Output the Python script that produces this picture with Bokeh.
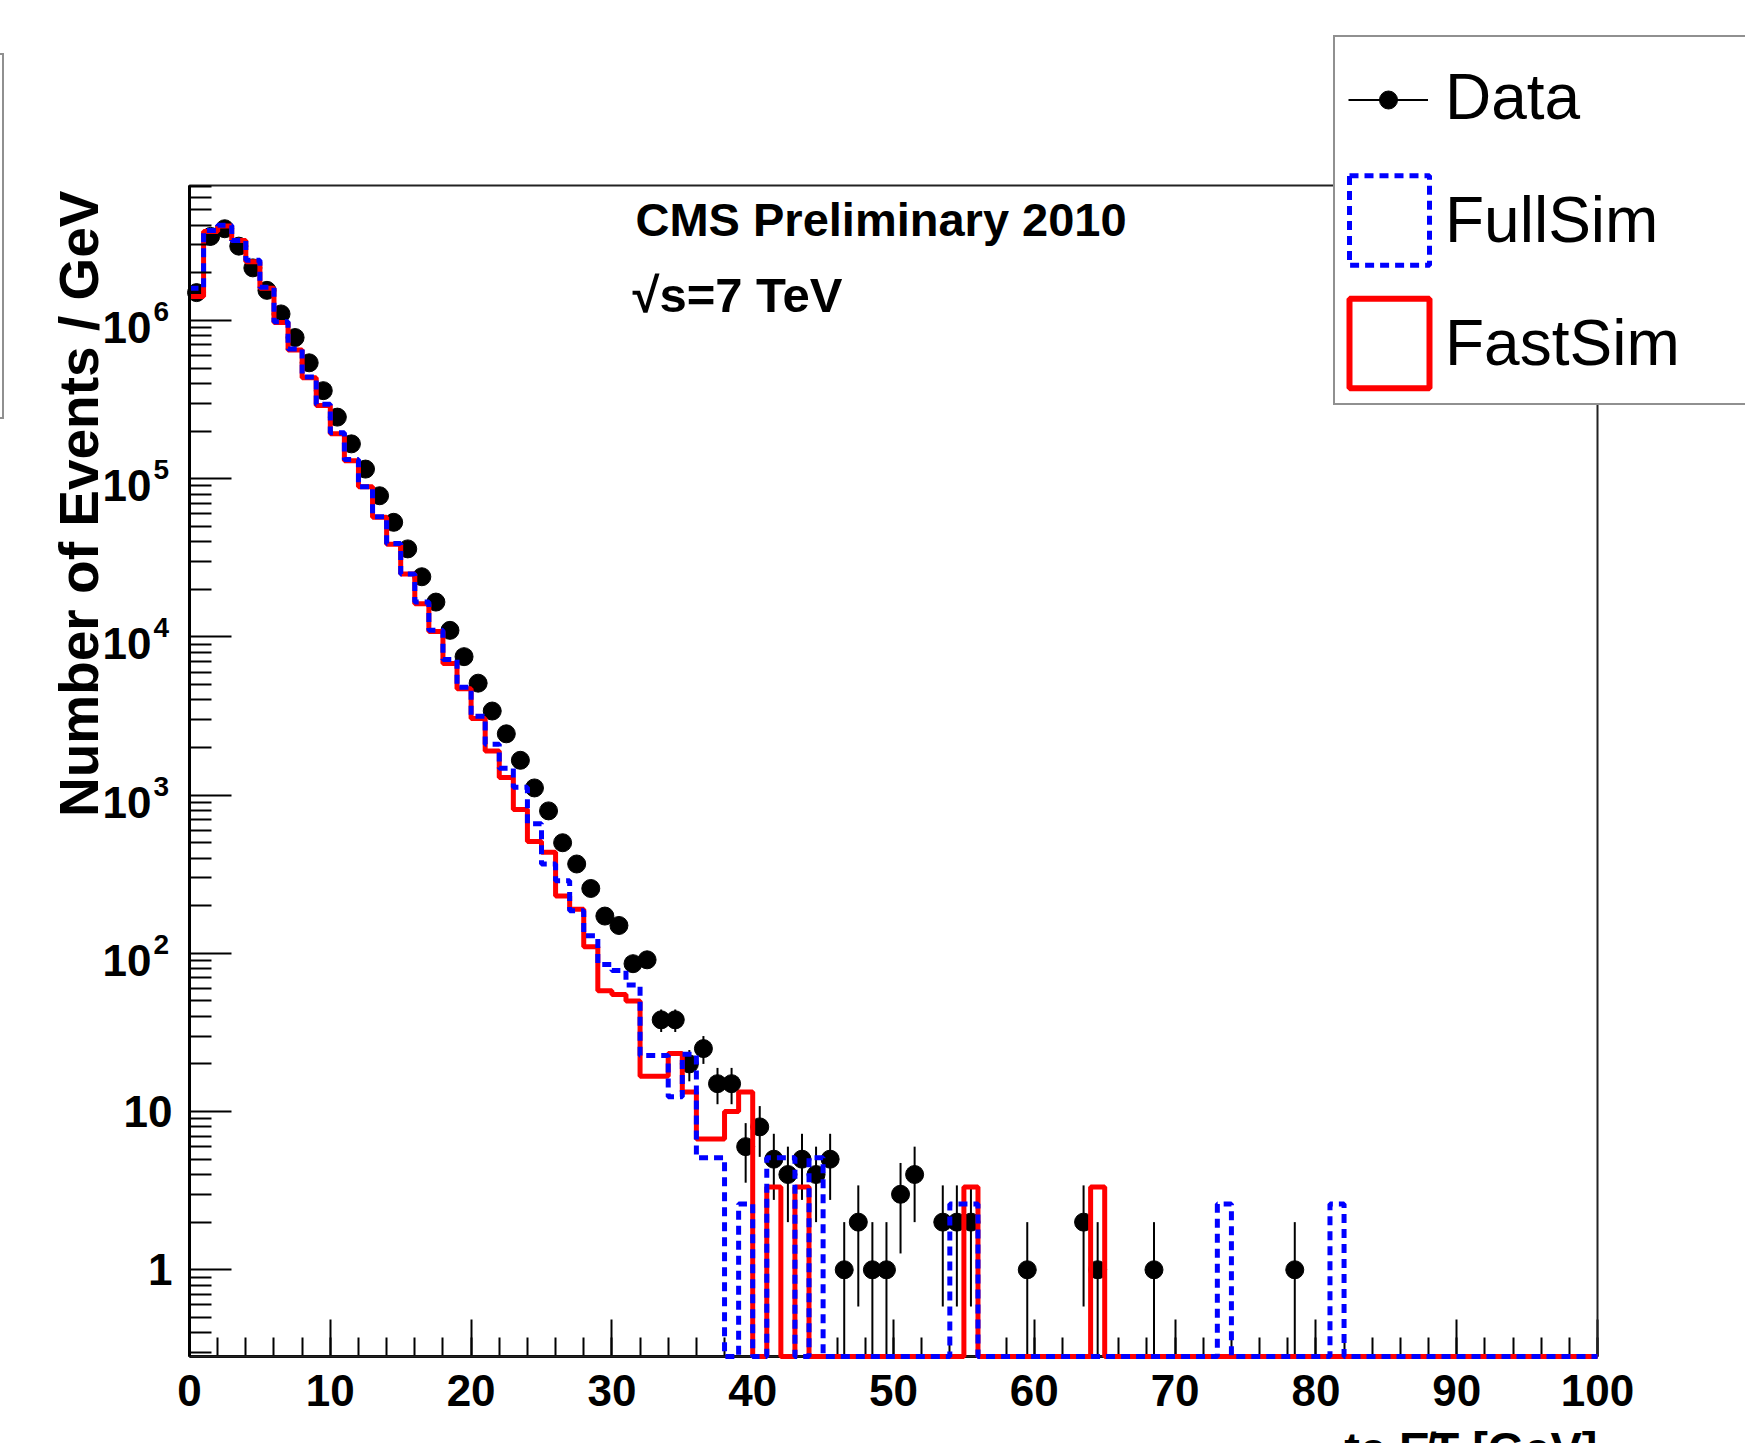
import numpy as np
from bokeh.plotting import figure
from bokeh.models import (FixedTicker, Label, Legend, LegendItem, ColumnDataSource,
                          CustomJSTickFormatter)
from bokeh.embed import file_html
from bokeh.resources import INLINE

# ---------------- data (1 GeV bins, 0..100 GeV) ----------------
bin_edges = list(range(0, 101))

data_counts = [1.5e6, 3.4e6, 3.8e6, 2.95e6, 2.15e6, 1.55e6, 1.1e6, 7.8e5, 5.4e5, 3.6e5,
               2.45e5, 1.66e5, 1.15e5, 7.8e4, 5.3e4, 3.6e4, 2.4e4, 1.66e4, 1.1e4, 7500,
               5100, 3400, 2440, 1660, 1110, 795, 500, 367, 257, 172,
               150, 86, 91, 38, 38, 20, 25, 15, 15, 6,
               8, 5, 4, 5, 4, 5, 1, 2, 1, 1,
               3, 4, 0, 2, 2, 2, 0, 0, 0, 1,
               0, 0, 0, 2, 1, 0, 0, 0, 1, 0,
               0, 0, 0, 0, 0, 0, 0, 0, 1, 0,
               0, 0, 0, 0, 0, 0, 0, 0, 0, 0,
               0, 0, 0, 0, 0, 0, 0, 0, 0, 0]

fullsim = [1.6e6, 3.7e6, 4.0e6, 3.2e6, 2.4e6, 1.62e6, 9.8e5, 6.6e5, 4.4e5, 2.95e5,
           1.95e5, 1.32e5, 8.9e4, 5.75e4, 3.9e4, 2.5e4, 1.66e4, 1.1e4, 7200, 4800,
           3150, 2100, 1480, 1120, 660, 367, 288, 186, 129, 85,
           78, 63, 22.6, 22.6, 12.4, 23, 5.1, 5.1, 0, 2.6,
           0, 5.1, 5.1, 0, 5.1, 0, 0, 0, 0, 0,
           0, 0, 0, 0, 2.6, 2.6, 0, 0, 0, 0,
           0, 0, 0, 0, 0, 0, 0, 0, 0, 0,
           0, 0, 0, 2.6, 0, 0, 0, 0, 0, 0,
           0, 2.6, 0, 0, 0, 0, 0, 0, 0, 0,
           0, 0, 0, 0, 0, 0, 0, 0, 0, 0]

fastsim = [1.42e6, 3.65e6, 3.95e6, 3.2e6, 2.35e6, 1.6e6, 9.7e5, 6.5e5, 4.35e5, 2.9e5,
           1.92e5, 1.30e5, 8.9e4, 5.7e4, 3.85e4, 2.5e4, 1.62e4, 1.08e4, 6800, 4700,
           3050, 1900, 1290, 810, 510, 435, 230, 190, 110, 58,
           55, 50, 16.7, 16.7, 23.3, 13.3, 6.7, 6.7, 10, 13.3,
           0, 3.33, 0, 3.33, 0, 0, 0, 0, 0, 0,
           0, 0, 0, 0, 0, 3.33, 0, 0, 0, 0,
           0, 0, 0, 0, 3.33, 0, 0, 0, 0, 0,
           0, 0, 0, 0, 0, 0, 0, 0, 0, 0,
           0, 0, 0, 0, 0, 0, 0, 0, 0, 0,
           0, 0, 0, 0, 0, 0, 0, 0, 0, 0]

x_ticks = [0, 10, 20, 30, 40, 50, 60, 70, 80, 90, 100]
x_minor_ticks = list(range(0, 101, 2))
y_ticks = [1, 10, 1e2, 1e3, 1e4, 1e5, 1e6]
y_tick_base = ["1", "10", "10", "10", "10", "10", "10"]
y_tick_exp = ["", "", "2", "3", "4", "5", "6"]

X_MIN, X_MAX = 0.0, 100.0
Y_MIN, Y_MAX = 0.283, 7.13e6
y_minor_ticks = [m * 10.0 ** d for d in range(-1, 7) for m in range(2, 10)
                 if Y_MIN <= m * 10.0 ** d <= Y_MAX]

# ---------------- layout (pixels) ----------------
W, H = 1745, 1443
FR_L, FR_R, FR_T, FR_B = 189, 1597, 185, 1356   # ROOT frame box on the canvas

FONT = "Liberation Sans"

# the Bokeh frame covers the whole canvas; the ROOT frame is a sub-box of it
ppx = (FR_R - FR_L) / (X_MAX - X_MIN)
x_start = X_MIN - FR_L / ppx
x_end = X_MAX + (W - FR_R) / ppx
ly0, ly1 = np.log10(Y_MIN), np.log10(Y_MAX)
ppd = (FR_B - FR_T) / (ly1 - ly0)
y_start = 10 ** (ly0 - (H - FR_B) / ppd)
y_end = 10 ** (ly1 + FR_T / ppd)

p = figure(width=W, height=H, x_range=(x_start, x_end), y_range=(y_start, y_end),
           y_axis_type="log", output_backend="svg", toolbar_location=None,
           min_border=0, min_border_left=0, min_border_right=0,
           min_border_top=0, min_border_bottom=0)
p.title.visible = False
p.background_fill_color = "white"
p.border_fill_color = "white"
p.outline_line_color = None
p.xgrid.visible = False
p.ygrid.visible = False

# x axis (placed at the bottom of the ROOT frame, drawn under the histograms)
p.xaxis.fixed_location = Y_MIN
p.xaxis.bounds = (X_MIN, X_MAX)
p.xaxis.level = "underlay"
p.xaxis.ticker = FixedTicker(ticks=x_ticks, minor_ticks=x_minor_ticks)
p.xaxis.major_tick_in = 37
p.xaxis.major_tick_out = 0
p.xaxis.minor_tick_in = 19
p.xaxis.minor_tick_out = 0
p.xaxis.major_tick_line_width = 2
p.xaxis.minor_tick_line_width = 2
p.xaxis.axis_line_width = 3
p.xaxis.major_label_text_font = FONT
p.xaxis.major_label_text_font_style = "bold"
p.xaxis.major_label_text_font_size = "44px"
p.xaxis.major_label_text_color = "black"
p.xaxis.major_label_standoff = 18

# y axis (placed at the left of the ROOT frame)
p.yaxis.fixed_location = X_MIN
p.yaxis.bounds = (Y_MIN, Y_MAX)
p.yaxis.ticker = FixedTicker(ticks=y_ticks, minor_ticks=y_minor_ticks)
p.yaxis.formatter = CustomJSTickFormatter(code="return ''")
p.yaxis.major_tick_in = 42
p.yaxis.major_tick_out = 0
p.yaxis.minor_tick_in = 22
p.yaxis.minor_tick_out = 0
p.yaxis.major_tick_line_width = 2
p.yaxis.minor_tick_line_width = 2
p.yaxis.axis_line_width = 3

# ROOT frame box (top and right edges)
p.quad(left=[X_MIN], right=[X_MAX], bottom=[Y_MIN], top=[Y_MAX], fill_alpha=0,
       line_color="#222222", line_width=2)

edges = np.array(bin_edges, dtype=float)


def outline(vals):
    v = np.maximum(np.array(vals, dtype=float), Y_MIN)
    xs = np.repeat(edges, 2)[1:-1]
    ys = np.repeat(v, 2)
    return xs, ys


# data points with sqrt(N) errors
cnt = np.array(data_counts, dtype=float)
mask = cnt > 0
xc = edges[:-1][mask] + 0.5
yv = cnt[mask]
err = np.sqrt(yv)
lo = np.maximum(yv - err, Y_MIN)
hi = yv + err
err_r = p.segment(x0=xc, y0=lo, x1=xc, y1=hi, line_color="black", line_width=2)
dots_r = p.scatter(x=xc, y=yv, size=18, color="black")

fx, fy = outline(fastsim)
p.line(fx, fy, line_color="#ff0000", line_width=5)
sx_, sy_ = outline(fullsim)
p.line(sx_, sy_, line_color="#0000ff", line_width=5, line_dash="9 6")

# hidden bar versions of the two histograms, used for the legend boxes
full_box = p.quad(left=edges[:-1], right=edges[1:], bottom=Y_MIN,
                  top=np.maximum(np.array(fullsim, float), Y_MIN),
                  fill_alpha=0, line_color="#0000ff", line_width=5, line_dash="9 6",
                  visible=False)
fast_box = p.quad(left=edges[:-1], right=edges[1:], bottom=Y_MIN,
                  top=np.maximum(np.array(fastsim, float), Y_MIN),
                  fill_alpha=0, line_color="#ff0000", line_width=6, visible=False)
empty = ColumnDataSource(dict(l=[], r=[], t=[], b=[]))
blank = p.quad(left="l", right="r", top="t", bottom="b", source=empty,
               fill_alpha=0, line_alpha=0)

# main legend box: labels + the two histogram boxes
legA = Legend(items=[LegendItem(label="Data", renderers=[blank]),
                     LegendItem(label="FullSim", renderers=[full_box]),
                     LegendItem(label="FastSim", renderers=[fast_box])],
              location=(1333, H - 405), glyph_width=100, glyph_height=112, padding=4,
              spacing=11, label_standoff=6, label_width=420, margin=0,
              label_text_font=FONT, label_text_font_size="64px",
              label_text_color="black",
              border_line_color="#222222", border_line_width=2,
              background_fill_color="white", background_fill_alpha=1.0)
p.add_layout(legA)

# the data marker (line + dot) drawn on the first legend row
legB = Legend(items=[LegendItem(label=" ", renderers=[err_r, dots_r])],
              location=(1348, H - 122), glyph_width=80, glyph_height=45, padding=0,
              spacing=0, label_standoff=0, label_width=0, label_height=10, margin=0,
              label_text_font_size="1px", border_line_alpha=0,
              background_fill_alpha=0)
p.add_layout(legB)

# edge of a box cut off at the left border of the picture
legC = Legend(items=[LegendItem(label=" ", renderers=[blank])],
              location=(-104, H - 419), glyph_width=100, glyph_height=358, padding=2,
              spacing=0, label_standoff=0, label_width=0, label_height=10, margin=0,
              label_text_font_size="1px", border_line_color="#222222",
              border_line_width=2, background_fill_color="white",
              background_fill_alpha=1.0)
p.add_layout(legC)


def lab(text, x, y, size, align="left", baseline="alphabetic", angle=0.0,
        y_units="screen", y_offset=0, style="bold", font=FONT):
    return Label(x=x, y=y, x_units="screen", y_units=y_units, text=text,
                 text_font=font, text_font_style=style, text_font_size=size,
                 text_align=align, text_baseline=baseline, angle=angle,
                 y_offset=y_offset, text_color="black")


# y tick labels
for val, base, ex in zip(y_ticks, y_tick_base, y_tick_exp):
    if ex:
        p.add_layout(lab(base, 151, val, "44px", align="right", baseline="middle",
                         y_units="data", y_offset=-7))
        p.add_layout(lab(ex, 153, val, "28px", align="left", baseline="middle",
                         y_units="data", y_offset=9))
    else:
        p.add_layout(lab(base, 172, val, "44px", align="right", baseline="middle",
                         y_units="data"))

# titles and annotations (screen units: x from left, y up from bottom of canvas)
p.add_layout(lab("Number of Events / GeV", 78, H - 190, "55px", align="right",
                 angle=np.pi / 2))
p.add_layout(lab("tc E\u0338T [GeV]", FR_R, H - 1421, "47px", align="right",
                 baseline="top"))
p.add_layout(lab("CMS Preliminary 2010", 635, H - 237 + 18, "47px"))
p.add_layout(lab("\u221as=7 TeV", 632, H - 312 + 18, "49px"))

open("out.html", "w").write(file_html(p, INLINE))
